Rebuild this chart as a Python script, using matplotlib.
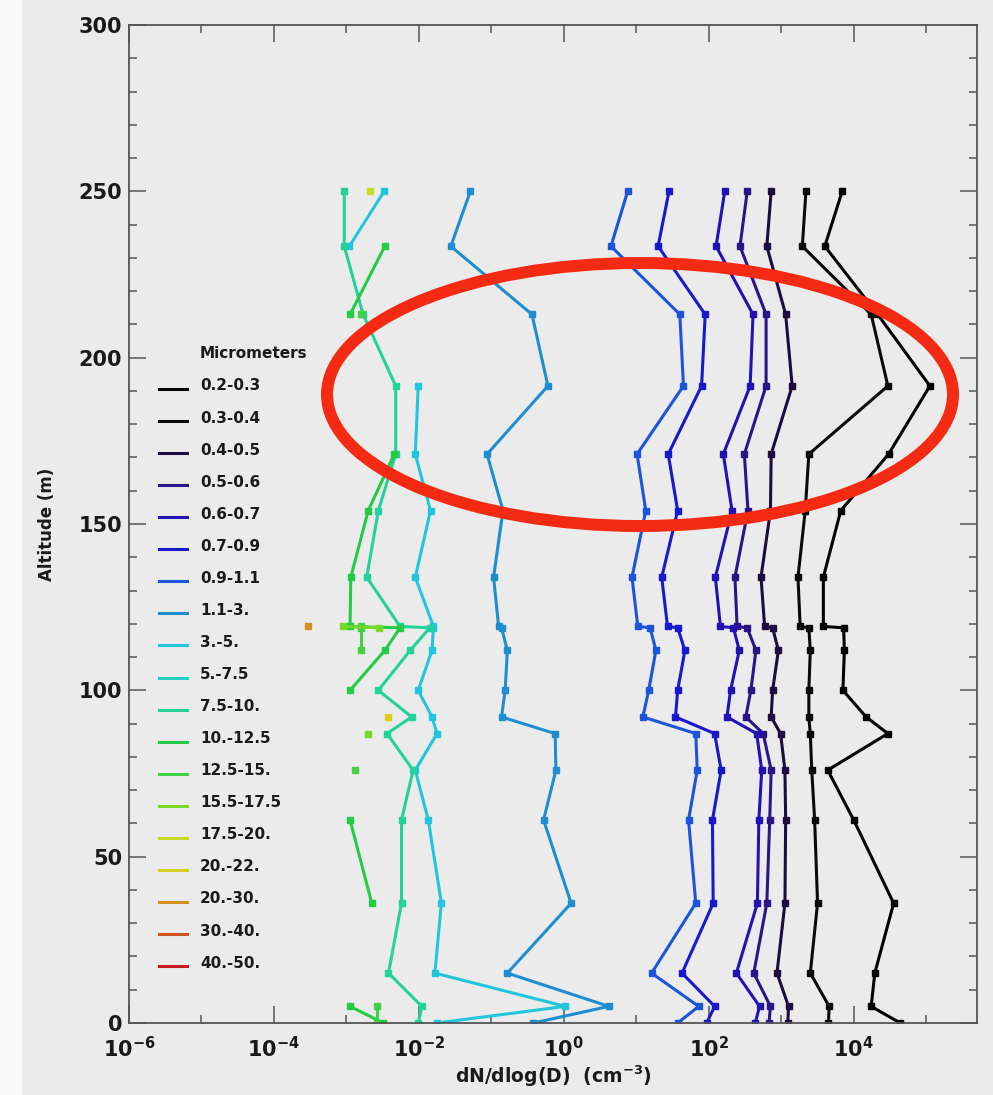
import numpy as np
import matplotlib
matplotlib.use("Agg")
import matplotlib.pyplot as plt
from matplotlib.lines import Line2D
from matplotlib.patches import Ellipse, Rectangle
from matplotlib.ticker import FixedLocator, FixedFormatter, NullFormatter

plt.rcParams['font.family'] = ['DejaVu Sans']
plt.rcParams['mathtext.fontset'] = 'dejavusans'

# altitude levels (m)
alt = [250, 233.5, 213, 191.5, 171, 154, 134, 119.2, 118.8, 112, 100, 92, 87, 76, 61, 36, 15, 5, 0]
nan = np.nan

# log10 of dN/dlog(D) per size bin
d_02_03 = [3.84, 3.60, 4.33, 5.05, 4.48, 3.82, 3.58, 3.58, 3.86, 3.87, 3.85, 4.17, 4.47, 3.64, 4.00, 4.55, 4.29, 4.24, 4.64]
d_03_04 = [3.34, 3.29, 4.24, 4.47, 3.38, 3.33, 3.23, 3.26, 3.38, 3.40, 3.38, 3.38, 3.40, 3.42, 3.46, 3.50, 3.40, 3.66, 3.65]
d_04_05 = [2.86, 2.80, 3.06, 3.15, 2.86, 2.85, 2.72, 2.77, 2.88, 2.96, 2.88, 2.86, 2.99, 3.05, 3.06, 3.05, 2.94, 3.10, 3.09]
d_05_06 = [2.53, 2.43, 2.79, 2.79, 2.49, 2.54, 2.36, 2.39, 2.53, 2.65, 2.58, 2.51, 2.75, 2.86, 2.84, 2.80, 2.62, 2.85, 2.83]
d_06_07 = [2.22, 2.10, 2.61, 2.57, 2.20, 2.32, 2.09, 2.16, 2.34, 2.42, 2.30, 2.25, 2.66, 2.73, 2.69, 2.67, 2.38, 2.70, 2.64]
d_07_09 = [1.45, 1.30, 1.95, 1.90, 1.44, 1.57, 1.35, 1.43, 1.57, 1.67, 1.57, 1.54, 2.08, 2.17, 2.05, 2.06, 1.63, 2.08, 1.97]
d_09_11 = [0.88, 0.65, 1.60, 1.65, 1.01, 1.13, 0.94, 1.02, 1.19, 1.27, 1.17, 1.09, 1.82, 1.84, 1.72, 1.82, 1.21, 1.86, 1.57]
d_11_3 = [-1.29, -1.56, -0.44, -0.22, -1.06, -0.84, -0.97, -0.90, -0.86, -0.78, -0.81, -0.86, -0.12, -0.11, -0.28, 0.10, -0.78, 0.62, -0.42]
d_3_5 = [-2.48, -2.96, nan, -2.01, -2.05, -1.84, -2.05, -1.80, -1.80, -1.82, -2.01, -1.82, -1.75, -2.05, -1.87, -1.69, -1.78, 0.02, -1.75]
d_5_75 = [nan] * 19
d_75_10 = [-3.03, -3.03, -2.77, -2.32, -2.32, -2.56, -2.72, -2.26, -1.85, -2.12, -2.56, -2.10, -2.44, -2.08, -2.24, -2.24, -2.42, -1.96, -2.01]
d_10_125 = [nan, -2.47, -2.95, nan, -2.34, -2.70, -2.94, -2.95, -2.26, -2.47, -2.95, nan, nan, nan, -2.95, -2.65, nan, -2.95, -2.49]
d_125_15 = [nan, nan, -2.80, nan, nan, nan, nan, -2.80, -2.80, -2.80, nan, nan, nan, -2.88, nan, nan, nan, -2.58, -2.58]
d_155_175 = [nan, nan, nan, nan, nan, nan, nan, -3.05, -2.55, nan, nan, nan, -2.70, nan, nan, nan, nan, nan, nan]
d_175_20 = [-2.67, nan, nan, nan, nan, nan, nan, nan, nan, nan, nan, nan, nan, nan, nan, nan, nan, nan, nan]
d_20_22 = [nan, nan, nan, nan, nan, nan, nan, nan, nan, nan, nan, -2.42, nan, nan, nan, nan, nan, nan, nan]
d_20_30 = [nan, nan, nan, nan, nan, nan, nan, -3.53, nan, nan, nan, nan, nan, nan, nan, nan, nan, nan, nan]
d_30_40 = [nan] * 19
d_40_50 = [nan] * 19

bins = ['0.2-0.3', '0.3-0.4', '0.4-0.5', '0.5-0.6', '0.6-0.7', '0.7-0.9', '0.9-1.1',
        '1.1-3.', '3.-5.', '5.-7.5', '7.5-10.', '10.-12.5', '12.5-15.', '15.5-17.5',
        '17.5-20.', '20.-22.', '20.-30.', '30.-40.', '40.-50.']
series = [d_02_03, d_03_04, d_04_05, d_05_06, d_06_07, d_07_09, d_09_11, d_11_3, d_3_5,
          d_5_75, d_75_10, d_10_125, d_125_15, d_155_175, d_175_20, d_20_22, d_20_30,
          d_30_40, d_40_50]
colors = ['#000000', '#0a0a0a', '#1c0c40', '#2a1488', '#2212b4', '#1818cc', '#1a55dc',
          '#1e8ed0', '#22c6dc', '#22d0c2', '#22d29a', '#22cc44', '#44d040', '#78d828',
          '#c4dc22', '#d8d020', '#d4901c', '#d45420', '#c81a1a']

xtick_vals = [1e-6, 1e-4, 1e-2, 1e0, 1e2, 1e4]
xtick_labels = [r'$\mathbf{10^{-6}}$', r'$\mathbf{10^{-4}}$', r'$\mathbf{10^{-2}}$',
                r'$\mathbf{10^{0}}$', r'$\mathbf{10^{2}}$', r'$\mathbf{10^{4}}$']

W, H = 993, 1095
fig = plt.figure(figsize=(W / 100, H / 100), dpi=100)
fig.patch.set_facecolor('#ebebeb')
fig.add_artist(Rectangle((0, 0), 21 / W, 1, transform=fig.transFigure,
                         color='#fafafa', zorder=-5))

ax = fig.add_axes([129 / W, 1 - 1023 / H, 848 / W, 998 / H])
ax.set_facecolor('#ebebeb')

for vals, c in zip(series, colors):
    ax.plot(10 ** np.array(vals), alt, '-s', color=c, lw=2.2, ms=4, mec=c, clip_on=True)

ax.set_xscale('log')
ax.set_xlim(1e-6, 10 ** 5.7)
ax.set_ylim(0, 300)
ax.xaxis.set_major_locator(FixedLocator(xtick_vals))
ax.xaxis.set_major_formatter(FixedFormatter(xtick_labels))
ax.xaxis.set_minor_locator(FixedLocator([1e-5, 1e-3, 1e-1, 1e1, 1e3, 1e5]))
ax.xaxis.set_minor_formatter(NullFormatter())
ax.yaxis.set_major_locator(FixedLocator(np.arange(0, 301, 50)))
ax.yaxis.set_minor_locator(FixedLocator(np.arange(0, 301, 10)))

ax.tick_params(which='both', direction='in', top=True, right=True, color='#555555', width=1.1)
ax.tick_params(which='major', length=12, labelsize=15, labelcolor='#1a1a1a')
ax.tick_params(which='minor', length=6)
ax.tick_params(axis='x', which='major', pad=9)
ax.tick_params(axis='y', which='major', pad=5)
for lbl in ax.get_yticklabels():
    lbl.set_fontweight('bold')
for s in ax.spines.values():
    s.set_color('#555555')
    s.set_linewidth(1.3)

ax.set_xlabel(r'dN/dlog(D)  (cm$^{\mathbf{-3}}$)', fontsize=13.5, fontweight='bold',
              labelpad=2, color='#1a1a1a')
ax.set_ylabel('Altitude (m)', fontsize=12, fontweight='bold', labelpad=16, color='#1a1a1a')

# legend drawn by hand, IDL style
def fx(x):
    return x / W

def fy(y):
    return 1 - y / H

fig.text(fx(200), fy(353), 'Micrometers', fontsize=11, fontweight='bold', va='center', ha='left',
         color='#1a1a1a')
for i, (lab, c) in enumerate(zip(bins, colors)):
    yy = 386 + i * 32.06
    fig.add_artist(Line2D([fx(159), fx(187)], [fy(yy + 3), fy(yy + 3)], color=c, lw=2.2,
                          transform=fig.transFigure))
    fig.text(fx(200), fy(yy), lab, fontsize=11, fontweight='bold', va='center', ha='left',
             color='#1a1a1a')

# red highlight ellipse
fig.add_artist(Ellipse((fx(640), fy(394.5)), 626 / W, 263 / H, transform=fig.transFigure,
                       fill=False, ec='#f42a12', lw=8.6, zorder=20))

fig.savefig('out.png', dpi=100, facecolor=fig.get_facecolor())
